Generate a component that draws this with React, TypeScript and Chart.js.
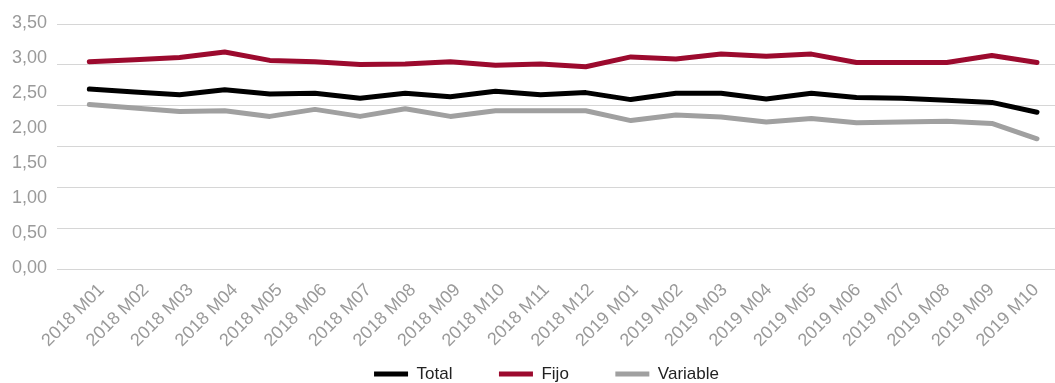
import React, { useEffect, useRef } from "react";
import { Chart, registerables } from "chart.js";

Chart.register(...registerables);

const categories = [
  "2018 M01", "2018 M02", "2018 M03", "2018 M04", "2018 M05", "2018 M06",
  "2018 M07", "2018 M08", "2018 M09", "2018 M10", "2018 M11", "2018 M12",
  "2019 M01", "2019 M02", "2019 M03", "2019 M04", "2019 M05", "2019 M06",
  "2019 M07", "2019 M08", "2019 M09", "2019 M10",
];

const totalValues = [
  2.57, 2.53, 2.49, 2.56, 2.5, 2.51, 2.44, 2.51, 2.46, 2.54, 2.49,
  2.52, 2.42, 2.51, 2.51, 2.43, 2.51, 2.45, 2.44, 2.41, 2.38, 2.24,
];

const fijoValues = [
  2.96, 2.99, 3.02, 3.1, 2.98, 2.96, 2.92, 2.93, 2.96, 2.91, 2.93,
  2.89, 3.03, 3.0, 3.07, 3.04, 3.07, 2.95, 2.95, 2.95, 3.05, 2.95,
];

const variableValues = [
  2.35, 2.3, 2.25, 2.26, 2.18, 2.28, 2.18, 2.29, 2.18, 2.26, 2.26,
  2.26, 2.12, 2.2, 2.17, 2.1, 2.15, 2.09, 2.1, 2.11, 2.08, 1.86,
];

const yTickLabels = ["0,00", "0,50", "1,00", "1,50", "2,00", "2,50", "3,00", "3,50"];

const seriesNames = ["Total", "Fijo", "Variable"];
const seriesColors = ["#000000", "#9c0a2e", "#a0a0a0"];

const FONT = "'Liberation Sans', Arial, sans-serif";
const GREY = "#9a9a9a";

// lets the rotated category labels use the space above the legend
const unclipLabels = {
  id: "unclipLabels",
  afterLayout(chart: any) {
    const s = chart.scales.x2;
    if (s) s.bottom = chart.height;
  },
};

export default function App() {
  const ref = useRef<HTMLCanvasElement | null>(null);

  useEffect(() => {
    if (!ref.current) return;
    const seriesValues = [totalValues, fijoValues, variableValues];
    const chart = new Chart(ref.current, {
      type: "line",
      data: {
        datasets: seriesNames.map((name, s) => ({
          label: name,
          data: seriesValues[s].map((v, i) => ({ x: i, y: v })),
          borderColor: seriesColors[s],
          backgroundColor: seriesColors[s],
          borderWidth: 5,
          borderCapStyle: "round" as const,
          borderJoinStyle: "round" as const,
          pointRadius: 0,
          pointHoverRadius: 0,
          tension: 0,
          fill: false,
          xAxisID: "x",
          yAxisID: "y",
        })),
      },
      plugins: [unclipLabels],
      options: {
        responsive: false,
        animation: false,
        layout: { padding: { top: 24, left: 0, right: -38, bottom: -9.5 } },
        plugins: {
          tooltip: { enabled: false },
          legend: {
            position: "bottom",
            labels: {
              usePointStyle: true,
              pointStyle: "line",
              pointStyleWidth: 34,
              padding: 46.5,
              color: "#222222",
              font: { family: FONT, size: 17 },
            },
          },
        },
        scales: {
          x: {
            type: "linear",
            axis: "x",
            display: false,
            min: -0.716,
            max: 21.399,
          },
          x2: {
            type: "linear",
            axis: "x",
            position: "bottom",
            min: -0.667,
            max: 21.764,
            grid: { display: false, drawTicks: false },
            border: { display: false },
            ticks: {
              autoSkip: false,
              minRotation: 45,
              maxRotation: 45,
              padding: 10.5,
              labelOffset: 15,
              color: GREY,
              font: { family: FONT, size: 18 },
              callback: (v: any) => categories[Math.round(Number(v))] ?? "",
            },
            afterBuildTicks: (axis: any) => {
              axis.ticks = categories.map((_, i) => ({ value: i }));
            },
            afterFit: (scale: any) => {
              scale.height = 50;
            },
          },
          y: {
            type: "linear",
            axis: "y",
            position: "left",
            min: 0,
            max: 3.5,
            grid: { display: false, drawTicks: false },
            border: { display: false },
            ticks: {
              stepSize: 0.5,
              padding: 10,
              labelOffset: -1,
              color: GREY,
              font: { family: FONT, size: 18 },
              callback: (v: any) => yTickLabels[Math.round(Number(v) / 0.5)] ?? "",
            },
            afterFit: (scale: any) => {
              scale.width = 57;
            },
          },
          y2: {
            type: "linear",
            axis: "y",
            position: "left",
            min: 0,
            max: 3,
            grid: { color: "#d6d6d6", lineWidth: 1, drawTicks: false },
            border: { display: false },
            ticks: { display: false, stepSize: 0.5 },
            afterFit: (scale: any) => {
              scale.width = 0;
            },
          },
        },
      },
    } as any);
    return () => chart.destroy();
  }, []);

  return (
    <div style={{ position: "absolute", left: 0, top: 0, width: 1055, height: 383, overflow: "hidden" }}>
      <canvas ref={ref} width={1055} height={383} style={{ display: "block" }} />
    </div>
  );
}
